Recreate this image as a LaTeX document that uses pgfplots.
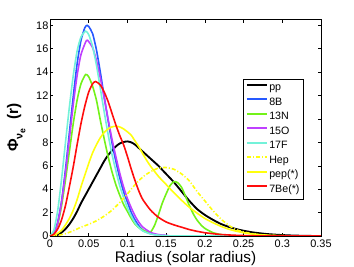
\documentclass[border=0pt]{standalone}
\usepackage{pgfplots}
\pgfplotsset{compat=1.18}
\usepackage{fontspec}
\setmainfont{Liberation Sans}
\definecolor{cB}{rgb}{0.15,0.35,1.0}
\definecolor{cN}{rgb}{0.45,0.95,0.10}
\definecolor{cO}{rgb}{0.75,0.25,1.0}
\definecolor{cF}{rgb}{0.45,0.95,0.85}
\definecolor{cY}{rgb}{1.0,1.0,0.05}
\definecolor{cR}{rgb}{1.0,0.05,0.05}
\begin{document}
\begin{tikzpicture}
\useasboundingbox (-37.5pt,-23.25pt) rectangle (228pt,177pt);
\begin{axis}[
  scale only axis, width=203.25pt, height=162.4pt,
  at={(0,0)}, anchor=south west,
  xmin=0, xmax=0.35, ymin=0, ymax=18.5,
  xtick={0,0.05,...,0.35}, ytick={0,2,...,18},
  xticklabels={0,0.05,0.1,0.15,0.2,0.25,0.3,0.35},
  /pgf/number format/assume math mode=true,
  tick align=inside, major tick length=2.5pt,
  tick style={black, line width=0.4pt},
  axis line style={black, line width=0.5pt},
  ticklabel style={font=\fontsize{8.2}{9}\selectfont},
  yticklabel style={inner sep=1pt},
  xticklabel style={inner sep=1pt, yshift=-1.5pt},
  xlabel={Radius (solar radius)},
  xlabel style={at={(axis description cs:0.5,-0.123)}, anchor=base, font=\fontsize{11.5}{13}\selectfont},
  ylabel={\bfseries Φ\raisebox{-3.5pt}{\fontsize{8}{8}\selectfont ν\raisebox{-2pt}{\fontsize{6.5}{6.5}\selectfont e}}\ \ (r)},
  ylabel style={at={(axis description cs:-0.118,0.5)}, anchor=base, rotate=0, font=\fontsize{11.5}{13}\selectfont},
  legend cell align=left,
  legend image code/.code={\draw[#1, line width=1.5pt, line cap=butt] (0pt,2.6pt) -- (15pt,2.6pt);},
  legend style={at={(0.712,0.727)}, anchor=north west, draw=black, line width=0.5pt,
    font=\fontsize{8}{9}\selectfont, inner sep=2pt, row sep=0.85pt,
    nodes={inner sep=1pt, text height=6pt, text depth=2pt}},
  every axis plot/.append style={line width=1.2pt, smooth, tension=0.4},
]
% pp
\addplot[black, line width=1.4pt] coordinates {
(0,0) (0.005,0.02) (0.01,0.1) (0.015,0.3) (0.02,0.6) (0.025,1.0) (0.03,1.5) (0.035,2.1) (0.04,2.8) (0.045,3.4) (0.05,4.0) (0.055,4.6) (0.06,5.2) (0.065,5.8) (0.07,6.4) (0.075,6.9) (0.08,7.3) (0.085,7.65) (0.09,7.9) (0.095,8.03) (0.1,8.08) (0.105,8.0) (0.11,7.8) (0.115,7.5) (0.12,7.2) (0.125,6.9) (0.13,6.6) (0.135,6.3) (0.14,6.0) (0.15,5.3) (0.16,4.6) (0.17,3.8) (0.18,3.0) (0.19,2.3) (0.2,1.8) (0.21,1.4) (0.22,1.05) (0.23,0.8) (0.24,0.6) (0.25,0.45) (0.26,0.33) (0.27,0.24) (0.28,0.17) (0.29,0.12) (0.3,0.08) (0.31,0.05) (0.32,0.03) (0.33,0.01) (0.35,0)};
\addlegendentry{pp}
% 8B
\addplot[cB] coordinates {
(0,0) (0.005,0.2) (0.01,1.2) (0.015,3.0) (0.02,5.7) (0.025,8.8) (0.03,11.9) (0.035,14.7) (0.04,16.7) (0.045,17.8) (0.048,18.0) (0.05,17.9) (0.055,17.3) (0.06,15.9) (0.065,14.0) (0.07,11.9) (0.075,9.9) (0.08,8.0) (0.085,6.4) (0.09,5.0) (0.095,3.8) (0.1,2.9) (0.105,2.0) (0.11,1.35) (0.115,0.85) (0.12,0.5) (0.13,0.2) (0.14,0.08) (0.15,0.03) (0.17,0) (0.35,0)};
\addlegendentry{8B}
% 13N
\addplot[cN] coordinates {
(0,0) (0.005,0.2) (0.01,1.0) (0.015,2.6) (0.02,4.8) (0.025,7.2) (0.03,9.6) (0.035,11.6) (0.04,13.0) (0.046,13.8) (0.05,13.6) (0.055,12.8) (0.06,11.6) (0.065,9.9) (0.07,8.3) (0.075,6.8) (0.08,5.5) (0.085,4.4) (0.09,3.5) (0.095,2.7) (0.1,2.1) (0.105,1.5) (0.11,1.0) (0.115,0.7) (0.12,0.5) (0.125,0.35) (0.13,0.35) (0.135,0.9) (0.14,1.8) (0.145,2.8) (0.15,3.6) (0.155,4.3) (0.16,4.65) (0.165,4.55) (0.17,4.15) (0.175,3.4) (0.18,2.6) (0.185,1.9) (0.19,1.35) (0.195,0.95) (0.2,0.65) (0.21,0.3) (0.22,0.13) (0.23,0.05) (0.25,0) (0.35,0)};
\addlegendentry{13N}
% 15O
\addplot[cO] coordinates {
(0,0) (0.005,0.2) (0.01,1.1) (0.015,2.9) (0.02,5.4) (0.025,8.3) (0.03,11.2) (0.035,13.7) (0.04,15.5) (0.047,16.7) (0.05,16.6) (0.055,16.1) (0.06,15.0) (0.065,13.5) (0.07,11.8) (0.075,10.0) (0.08,8.3) (0.085,6.8) (0.09,5.4) (0.095,4.2) (0.1,3.2) (0.105,2.4) (0.11,1.7) (0.115,1.15) (0.12,0.75) (0.13,0.3) (0.14,0.12) (0.15,0.05) (0.17,0) (0.35,0)};
\addlegendentry{15O}
% 17F
\addplot[cF] coordinates {
(0,0) (0.005,0.5) (0.01,2.2) (0.015,4.9) (0.02,8.0) (0.025,11.0) (0.03,13.7) (0.035,15.8) (0.04,17.0) (0.046,17.5) (0.05,17.2) (0.055,16.2) (0.06,14.6) (0.065,12.6) (0.07,10.6) (0.075,8.7) (0.08,7.0) (0.085,5.6) (0.09,4.3) (0.095,3.3) (0.1,2.4) (0.105,1.7) (0.11,1.1) (0.115,0.7) (0.12,0.42) (0.13,0.17) (0.14,0.07) (0.15,0.02) (0.17,0) (0.35,0)};
\addlegendentry{17F}
% Hep
\addplot[cY, dash pattern=on 3pt off 1.5pt on 0.8pt off 1.5pt] coordinates {
(0,0) (0.01,0.05) (0.02,0.2) (0.03,0.45) (0.04,0.75) (0.05,1.0) (0.06,1.3) (0.07,1.7) (0.08,2.2) (0.09,2.85) (0.1,3.6) (0.11,4.4) (0.12,5.05) (0.13,5.5) (0.14,5.8) (0.15,5.85) (0.16,5.7) (0.17,5.3) (0.18,4.7) (0.19,3.8) (0.2,3.0) (0.21,2.2) (0.22,1.5) (0.23,0.95) (0.24,0.55) (0.25,0.35) (0.26,0.2) (0.27,0.11) (0.28,0.06) (0.3,0.02) (0.32,0) (0.35,0)};
\addlegendentry{Hep}
% pep
\addplot[cY] coordinates {
(0,0) (0.005,0.05) (0.01,0.23) (0.015,0.5) (0.02,0.95) (0.025,1.5) (0.03,2.2) (0.035,3.1) (0.04,4.2) (0.045,5.2) (0.05,6.2) (0.055,7.1) (0.06,7.8) (0.065,8.4) (0.07,8.85) (0.075,9.15) (0.08,9.32) (0.085,9.38) (0.09,9.32) (0.095,9.15) (0.1,8.9) (0.105,8.6) (0.11,8.1) (0.115,7.6) (0.12,7.0) (0.125,6.45) (0.13,5.95) (0.14,5.1) (0.15,4.4) (0.16,3.7) (0.17,3.05) (0.18,2.45) (0.19,1.95) (0.2,1.5) (0.21,1.15) (0.22,0.85) (0.23,0.6) (0.24,0.42) (0.25,0.28) (0.26,0.18) (0.28,0.07) (0.3,0.02) (0.32,0) (0.35,0)};
\addlegendentry{pep(*)}
% 7Be
\addplot[cR] coordinates {
(0,0) (0.005,0.15) (0.01,0.6) (0.015,1.4) (0.02,2.6) (0.025,4.2) (0.03,5.9) (0.035,7.8) (0.04,9.6) (0.045,11.1) (0.05,12.3) (0.055,13.0) (0.059,13.2) (0.065,12.9) (0.07,12.3) (0.075,11.5) (0.08,10.5) (0.085,9.5) (0.09,8.6) (0.095,7.8) (0.1,6.8) (0.105,5.7) (0.11,4.7) (0.115,3.8) (0.12,3.1) (0.13,2.2) (0.14,1.6) (0.15,1.2) (0.16,0.95) (0.17,0.75) (0.18,0.55) (0.19,0.4) (0.2,0.28) (0.21,0.2) (0.22,0.13) (0.24,0.06) (0.26,0.02) (0.3,0) (0.35,0)};
\addlegendentry{7Be(*)}
\end{axis}
\end{tikzpicture}
\end{document}
